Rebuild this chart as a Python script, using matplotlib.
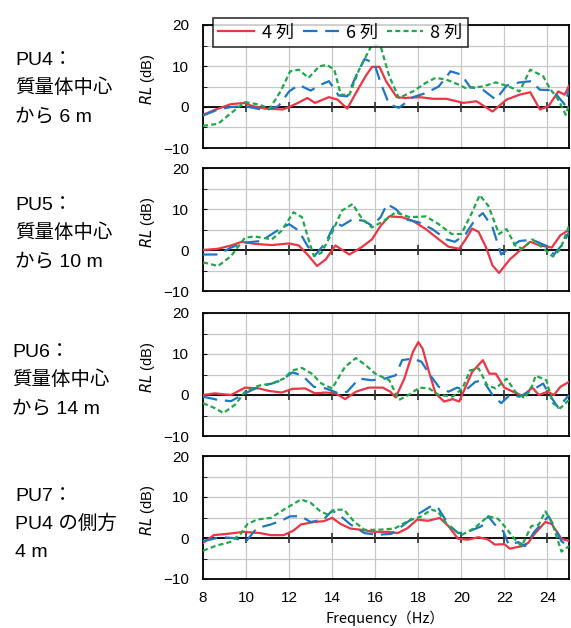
import matplotlib
matplotlib.use("Agg")
import matplotlib.pyplot as plt
from matplotlib.ticker import MultipleLocator
import logging

logging.getLogger("matplotlib.font_manager").setLevel(logging.ERROR)
plt.rcParams['font.family'] = ['Liberation Sans', 'Noto Sans CJK JP', 'DejaVu Sans']
NARROW = ['Liberation Sans Narrow', 'Liberation Sans', 'DejaVu Sans']

# ── data ─────────────────────────────────────────────────────────────────────
# PU4
pu4_x4 = [8.0, 8.55, 9.3, 9.95, 10.25, 10.9, 11.7, 12.0, 12.45, 12.85, 13.2, 13.85, 14.25, 14.7,
          15.1, 15.55, 15.85, 16.2, 16.5, 17.0, 17.4, 18.05, 18.7, 19.3, 20.1, 20.7, 21.45, 22.1,
          22.7, 23.2, 23.65, 24.05, 24.5, 24.8, 25.0]
pu4_y4 = [-1.9, -0.7, 0.7, 1.0, 0.3, -0.4, -0.6, 0.0, 1.1, 2.2, 1.0, 2.4, 1.8, -0.4,
          3.4, 7.5, 9.8, 9.8, 6.3, 2.4, 2.2, 2.4, 2.0, 2.0, 1.0, 1.4, -1.1, 1.8,
          3.0, 3.6, -0.6, 0.2, 3.8, 3.0, 5.2]
pu4_x6 = [8.0, 8.7, 9.3, 9.95, 10.9, 11.5, 12.0, 12.45, 13.0, 13.45, 13.85, 14.3, 14.7, 15.1,
          15.5, 15.95, 16.25, 16.65, 17.1, 17.75, 18.35, 18.95, 19.5, 20.0, 20.4, 21.0, 21.6,
          22.1, 22.7, 23.25, 23.65, 24.25, 24.8, 25.0]
pu4_y6 = [-2.1, -0.6, 0.0, 0.2, -0.8, 0.2, 3.8, 5.4, 4.0, 5.4, 6.3, 2.8, 2.6, 7.5,
          11.7, 10.7, 5.9, 0.6, -0.2, 2.4, 3.4, 5.0, 8.7, 7.9, 4.9, 4.2, 1.8,
          5.2, 6.0, 6.3, 4.2, 4.1, 0.6, 4.2]
pu4_x8 = [8.0, 8.7, 9.3, 9.95, 10.6, 11.1, 11.6, 12.05, 12.45, 12.9, 13.4, 13.75, 14.1, 14.4,
          14.8, 15.25, 15.85, 16.25, 16.65, 17.1, 17.75, 18.35, 18.8, 19.3, 19.9, 20.2, 21.0,
          21.6, 22.25, 22.7, 23.2, 23.8, 24.1, 24.5, 24.85, 25.0]
pu4_y8 = [-4.6, -4.1, -1.5, 1.2, 0.6, -0.4, 3.8, 8.7, 9.1, 7.1, 9.9, 10.3, 9.1, 3.0,
          3.0, 9.1, 15.2, 14.8, 7.5, 2.2, 3.8, 5.9, 7.1, 6.7, 5.4, 4.6, 5.0,
          6.0, 4.9, 3.8, 9.1, 7.5, 4.6, 1.8, -1.9, 0.6]

# PU5
pu5_x4 = [8.0, 8.7, 9.3, 9.8, 10.4, 11.2, 12.0, 12.45, 12.85, 13.3, 13.7, 14.15, 14.8, 15.4,
          15.85, 16.25, 16.65, 17.25, 17.75, 18.35, 18.95, 19.4, 19.9, 20.2, 20.5, 20.8, 21.15,
          21.45, 21.75, 22.25, 22.7, 23.2, 23.65, 24.2, 24.6, 25.0]
pu5_y4 = [0.0, 0.3, 1.1, 2.0, 1.5, 1.2, 1.6, 1.1, -1.1, -3.9, -2.3, 1.1, -1.1, 0.8,
          2.6, 5.9, 8.2, 8.0, 7.1, 5.1, 2.6, 0.8, 0.3, 2.6, 5.2, 4.4, 0.6,
          -3.8, -5.6, -2.3, -0.2, 2.0, 1.1, 0.6, 3.6, 4.9]
pu5_x6 = [8.0, 8.7, 9.3, 9.95, 10.7, 11.5, 12.0, 12.45, 12.85, 13.2, 13.7, 14.15, 14.45, 14.95,
          15.5, 15.85, 16.25, 16.55, 16.95, 17.4, 18.05, 18.65, 19.3, 19.7, 20.2, 20.65, 21.0,
          21.45, 21.85, 22.25, 22.7, 23.3, 23.95, 24.3, 24.7, 25.0]
pu5_y6 = [-1.1, -1.1, 0.6, 1.8, 2.2, 4.9, 6.3, 4.7, 1.0, -1.3, 1.8, 6.7, 5.9, 7.5,
          7.1, 5.9, 8.0, 11.2, 10.0, 7.5, 6.7, 5.1, 2.6, 2.0, 3.9, 7.5, 9.0,
          5.5, -1.1, 0.6, 2.2, 2.5, 1.0, -1.1, 1.4, 4.3]
pu5_x8 = [8.0, 8.7, 9.3, 9.95, 10.4, 11.2, 11.65, 12.2, 12.6, 12.9, 13.15, 13.5, 14.0, 14.45,
          14.95, 15.4, 15.85, 16.4, 16.95, 17.6, 18.35, 18.95, 19.55, 20.0, 20.5, 20.85, 21.25,
          21.75, 22.1, 22.5, 22.85, 23.3, 23.85, 24.25, 24.6, 25.0]
pu5_y8 = [-3.0, -3.9, -1.5, 3.0, 3.3, 2.6, 4.7, 9.2, 8.0, 2.6, -1.5, -0.7, 4.3, 9.6,
          11.2, 7.5, 5.5, 7.1, 9.2, 8.0, 8.2, 6.3, 3.9, 3.9, 9.2, 13.4, 10.8,
          3.9, 5.1, 1.1, 0.3, 2.6, 0.2, -1.6, 0.2, 5.9]

# PU6
pu6_x4 = [8.0, 8.55, 9.3, 9.95, 10.6, 11.05, 11.65, 12.15, 12.75, 13.2, 13.7, 14.15, 14.6, 15.1,
          15.7, 16.35, 16.7, 16.95, 17.35, 17.75, 18.0, 18.2, 18.5, 18.8, 19.2, 19.6, 19.9,
          20.2, 20.5, 21.0, 21.3, 21.6, 22.0, 22.4, 22.85, 23.3, 23.6, 24.0, 24.3, 24.6, 25.0]
pu6_y4 = [0.0, 0.4, 0.0, 1.8, 1.6, 1.0, 0.6, 1.5, 1.6, 0.4, 0.6, 0.4, -1.0, 0.8,
          1.8, 1.8, 0.8, -0.6, 4.0, 10.5, 12.9, 11.3, 5.6, 0.4, -1.6, -1.0, -1.6,
          2.0, 5.6, 8.5, 5.2, 5.2, 1.8, 0.8, -0.2, 1.8, 0.0, 0.8, 0.0, 2.0, 3.2]
pu6_x6 = [8.0, 8.7, 9.3, 9.95, 10.6, 11.2, 11.65, 12.15, 12.6, 13.15, 13.7, 14.3, 14.7, 15.25,
          15.85, 16.45, 16.95, 17.25, 17.75, 18.15, 18.5, 18.95, 19.4, 19.8, 20.2, 20.65, 21.0,
          21.45, 21.85, 22.25, 22.7, 23.3, 23.8, 24.1, 24.5, 25.0]
pu6_y6 = [-0.4, -1.2, -1.5, 0.4, 2.0, 2.8, 3.6, 5.5, 4.8, 2.0, 1.6, 0.4, 0.8, 4.0,
          3.6, 4.0, 4.8, 8.5, 8.9, 8.1, 5.2, 2.0, 0.8, 1.8, 1.2, 3.2, 3.6,
          0.0, -2.0, 0.0, -0.4, 1.2, 2.8, 0.0, -3.1, 0.0]
pu6_x8 = [8.0, 8.55, 8.95, 9.5, 9.95, 10.6, 11.2, 11.75, 12.15, 12.6, 13.05, 13.5, 14.0, 14.6,
          15.1, 15.55, 16.0, 16.65, 17.1, 17.55, 18.05, 18.5, 18.95, 19.6, 20.05, 20.4, 20.8,
          21.2, 21.6, 22.1, 22.5, 22.95, 23.3, 23.45, 23.95, 24.25, 24.6, 25.0]
pu6_y8 = [-2.0, -3.2, -4.4, -2.3, 0.8, 2.3, 2.8, 4.0, 6.0, 6.6, 5.2, 2.8, 1.6, 6.9,
          9.0, 7.3, 5.2, 3.6, -1.2, 0.0, 1.8, 1.6, 0.0, -0.4, 1.6, 6.0, 6.5,
          2.4, 1.6, 4.0, 0.8, -0.8, 2.4, 4.7, 3.6, -2.0, -3.2, -1.2]

# PU7
pu7_x4 = [8.0, 8.5, 9.1, 9.9, 10.65, 11.15, 11.75, 12.2, 12.55, 13.15, 13.6, 14.0, 14.4, 14.85,
          15.35, 15.95, 16.6, 17.05, 17.5, 17.95, 18.45, 19.0, 19.4, 19.85, 20.3, 20.8, 21.25,
          21.55, 22.0, 22.25, 22.8, 23.1, 23.4, 23.9, 24.2, 24.65, 25.0]
pu7_y4 = [-1.2, 0.7, 1.0, 1.5, 1.2, 0.7, 0.7, 1.8, 3.3, 3.9, 4.1, 4.9, 3.4, 2.3,
          2.0, 1.5, 1.5, 1.2, 2.4, 4.5, 4.2, 4.9, 2.9, -0.2, -0.4, 0.2, -0.4,
          -1.6, -1.5, -2.6, -2.0, -1.2, 1.0, 3.9, 3.4, -0.2, -0.7]
pu7_x6 = [8.0, 8.8, 9.4, 10.0, 10.5, 11.15, 11.75, 12.05, 12.55, 13.0, 13.6, 14.0, 14.4, 14.85,
          15.5, 16.1, 16.75, 17.35, 17.95, 18.6, 18.9, 19.4, 19.85, 20.3, 20.95, 21.25, 21.55,
          21.95, 22.2, 22.65, 22.95, 23.4, 24.05, 24.35, 24.65, 25.0]
pu7_y6 = [-0.8, 0.2, 0.0, -0.8, 2.4, 3.3, 4.5, 5.3, 5.3, 3.9, 4.5, 6.7, 5.3, 3.3,
          1.2, 0.8, 1.0, 3.3, 5.7, 7.8, 7.5, 3.3, 1.2, 1.5, 2.9, 5.3, 3.3,
          1.6, -1.6, -1.0, -2.0, 1.6, 5.3, 2.4, -0.8, -2.0]
pu7_x8 = [8.0, 8.65, 9.25, 9.75, 10.05, 10.5, 11.15, 11.75, 12.55, 13.0, 13.45, 13.8, 14.1, 14.55,
          15.0, 15.5, 16.1, 16.9, 17.5, 18.15, 18.6, 18.9, 19.4, 20.0, 20.6, 21.25, 21.7,
          22.0, 22.5, 22.8, 23.25, 23.6, 23.9, 24.2, 24.65, 25.0]
pu7_y8 = [-3.1, -1.8, -1.0, 1.0, 3.3, 4.5, 4.9, 6.9, 9.4, 8.6, 6.5, 5.7, 6.9, 6.9,
          4.1, 2.0, 2.0, 2.3, 4.1, 5.3, 6.9, 6.5, 2.9, 0.7, 2.4, 5.3, 4.7,
          2.9, -0.4, -2.0, 2.9, 3.3, 6.5, 3.9, -3.3, -2.0]

panels = [
    ("PU4：", "質量体中心", "から 6 m", (pu4_x4, pu4_y4), (pu4_x6, pu4_y6), (pu4_x8, pu4_y8)),
    ("PU5：", "質量体中心", "から 10 m", (pu5_x4, pu5_y4), (pu5_x6, pu5_y6), (pu5_x8, pu5_y8)),
    ("PU6：", "質量体中心", "から 14 m", (pu6_x4, pu6_y4), (pu6_x6, pu6_y6), (pu6_x8, pu6_y8)),
    ("PU7：", "PU4 の側方", "4 m", (pu7_x4, pu7_y4), (pu7_x6, pu7_y6), (pu7_x8, pu7_y8)),
]
series_names = ["4 列", "6 列", "8 列"]

# ── styles ───────────────────────────────────────────────────────────────────
RED, BLUE, GREEN = "#ec3545", "#1f77c4", "#1fa84a"
styles = [
    dict(color=RED, lw=1.6, ls="-"),
    dict(color=BLUE, lw=1.6, ls=(0, (6.5, 3.5))),
    dict(color=GREEN, lw=1.6, ls=(0, (2.3, 1.4))),
]

W, H = 571, 628
fig = plt.figure(figsize=(W / 100, H / 100), dpi=100)
fig.patch.set_facecolor("white")

tops = [25, 168, 313, 456]
label_y = [58, 203, 350, 494]
label_x = [15, 15, 12, 15]
ph = 123
left_px, right_px = 203, 569

for i, (l1, l2, l3, s4, s6, s8) in enumerate(panels):
    top = tops[i]
    ax = fig.add_axes([left_px / W, 1 - (top + ph) / H, (right_px - left_px) / W, ph / H])
    ax.set_xlim(8, 25)
    ax.set_ylim(-10, 20)
    ax.xaxis.set_major_locator(MultipleLocator(2))
    ax.yaxis.set_major_locator(MultipleLocator(10))
    ax.yaxis.set_minor_locator(MultipleLocator(5))
    ax.grid(True, which="both", color="#c8c8c8", lw=0.9, zorder=0)
    ax.set_axisbelow(True)
    for sp in ax.spines.values():
        sp.set_color("black")
        sp.set_linewidth(1.3)

    # zero line with tick marks, Excel style
    ax.axhline(0, color="black", lw=1.3, zorder=2)
    zt = list(range(10, 25, 2))
    ax.plot(zt, [0] * len(zt), ls="none", marker="|", ms=7, mew=1.2, color="#333333", zorder=2)

    lines = []
    for (xs, ys), st, nm in zip([s4, s6, s8], styles, series_names):
        ln, = ax.plot(xs, ys, label=nm, zorder=3, **st)
        lines.append(ln)

    ax.tick_params(axis="y", which="both", direction="in", length=3, labelsize=11, pad=10)
    ax.tick_params(axis="x", length=0, labelsize=11, pad=9)
    ax.set_yticks([-10, 0, 10, 20])
    ax.set_yticklabels(["−10", "0", "10", "20"])
    for t in ax.get_yticklabels() + ax.get_xticklabels():
        t.set_fontfamily(NARROW)
    if i < 3:
        ax.set_xticklabels([])
    ax.set_ylabel("$RL$ (dB)", fontsize=10.5, family=NARROW)
    ax.yaxis.set_label_coords(-0.126, 0.56)

    if i == 0:
        leg = ax.legend(handles=lines, loc="upper left", bbox_to_anchor=(0.027, 1.055),
                        ncol=3, fontsize=13, frameon=True, fancybox=False,
                        handlelength=2.0, columnspacing=0.5, borderpad=0.3,
                        handletextpad=0.4, borderaxespad=0)
        leg.get_frame().set_edgecolor("black")
        leg.get_frame().set_linewidth(1.2)
        for t in leg.get_texts():
            t.set_fontfamily(["Noto Sans CJK JP"])

    # site label at left
    for k, s in enumerate([l1, l2, l3]):
        fig.text(label_x[i] / W, 1 - (label_y[i] + 7 + 28 * k) / H, s, fontsize=14,
                 ha="left", va="baseline")

fig.text(385 / W, 1 - 618 / H, "Frequency（Hz）", fontsize=10.5, ha="center", va="center",
         family=["Noto Sans CJK JP"])

fig.savefig("out.png", dpi=100, facecolor="white")
